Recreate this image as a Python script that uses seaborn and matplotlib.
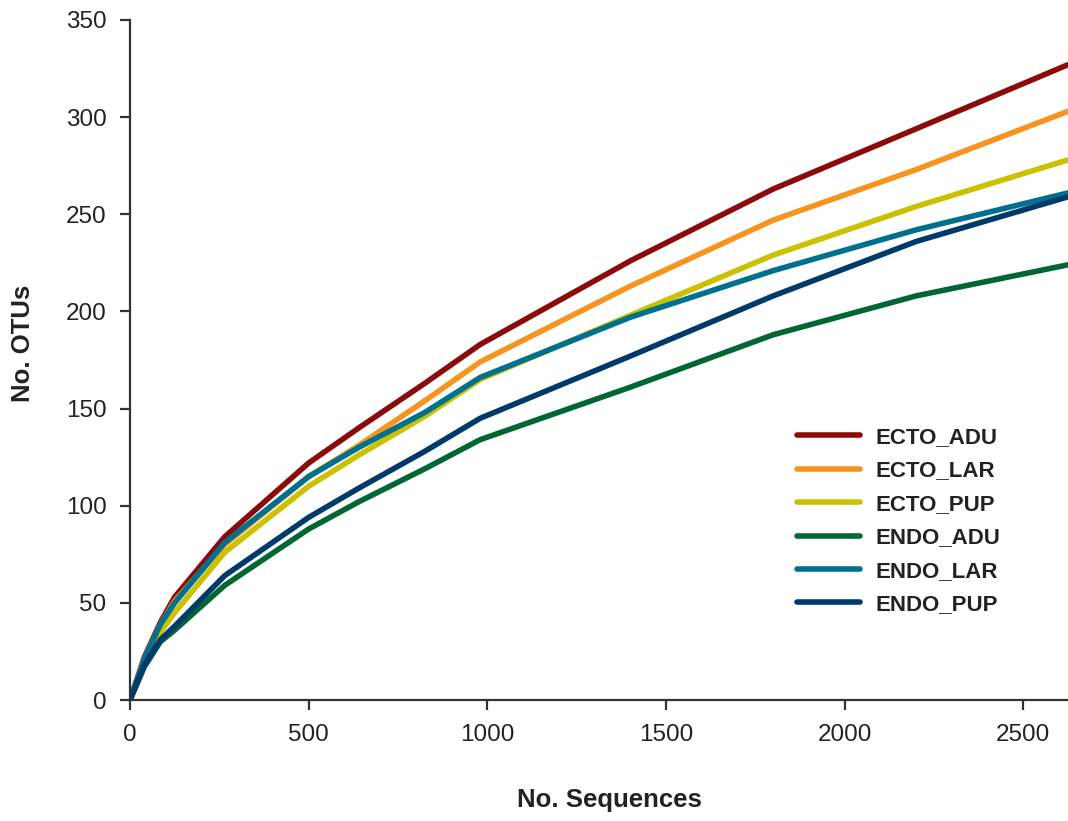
import matplotlib
matplotlib.use("Agg")
import matplotlib.pyplot as plt
import pandas as pd
import seaborn as sns

# rarefaction readings (No. Sequences -> No. OTUs)
seqs = [0, 40, 85, 125, 265, 500, 640, 825, 980, 1400, 1800, 2200, 2625]
ecto_adu = [0, 22, 40, 53, 84, 122, 140, 163, 183, 226, 263, 294, 327]
ecto_lar = [0, 21, 39, 51, 80, 115, 131, 154, 174, 213, 247, 273, 303]
ecto_pup = [0, 19, 35, 45, 76, 110, 126, 146, 165, 198, 229, 254, 278]
endo_adu = [0, 17, 30, 36, 59, 88, 102, 119, 134, 161, 188, 208, 224]
endo_lar = [0, 21, 39, 50, 81, 115, 130, 148, 166, 197, 221, 242, 261]
endo_pup = [0, 18, 31, 38, 64, 94, 109, 128, 145, 177, 208, 236, 259]

groups = ["ECTO_ADU", "ECTO_LAR", "ECTO_PUP", "ENDO_ADU", "ENDO_LAR", "ENDO_PUP"]
series = [ecto_adu, ecto_lar, ecto_pup, endo_adu, endo_lar, endo_pup]
colors = ["#8c0a0a", "#f7941d", "#cbc100", "#006633", "#00708f", "#003a6b"]

data = pd.DataFrame({
    "seqs": seqs * len(groups),
    "otus": [v for s in series for v in s],
    "group": [g for g in groups for _ in seqs],
})

sns.set_style("ticks")
plt.rcParams["font.family"] = ["Liberation Sans", "DejaVu Sans"]

fig = plt.figure(figsize=(10.68, 8.21), dpi=100)
ax = fig.add_axes([130 / 1068, 1 - 700 / 821, 1 - 130 / 1068, (700 - 20) / 821])
sns.lineplot(data=data, x="seqs", y="otus", hue="group", hue_order=groups,
             palette=dict(zip(groups, colors)), linewidth=4, ax=ax)
for line in ax.get_lines():
    line.set_solid_capstyle("round")
    line.set_solid_joinstyle("round")

ax.set_xlim(0, 2625)
ax.set_ylim(0, 350)
ax.set_xticks([0, 500, 1000, 1500, 2000, 2500])
ax.set_yticks(range(0, 351, 50))
ax.tick_params(labelsize=17.5, length=7, width=1.6, color="#333333", labelcolor="#222222", pad=10)
for s in ["left", "bottom"]:
    ax.spines[s].set_linewidth(1.6)
    ax.spines[s].set_color("#333333")
sns.despine(ax=ax)

ax.set_xlabel("No. Sequences", fontsize=18.5, fontweight="bold", color="#222222", va="center")
ax.xaxis.set_label_coords((609 - 130) / 938, (700 - 800) / 680)
ax.set_ylabel("No. OTUs", fontsize=18.5, fontweight="bold", color="#222222", va="center")
ax.yaxis.set_label_coords((23 - 130) / 938, (700 - 343) / 680)

leg = ax.legend(loc="upper left", bbox_to_anchor=(797 / 1068, 1 - 427 / 821),
                bbox_transform=fig.transFigure, frameon=False, borderpad=0, borderaxespad=0,
                handlelength=2.84, handletextpad=0.68, labelspacing=0.56,
                prop={"size": 16, "weight": "bold"})
for line in leg.get_lines():
    line.set_linewidth(4)
    line.set_solid_capstyle("round")
for t in leg.get_texts():
    t.set_color("#222222")

fig.savefig("out.png", dpi=100)
